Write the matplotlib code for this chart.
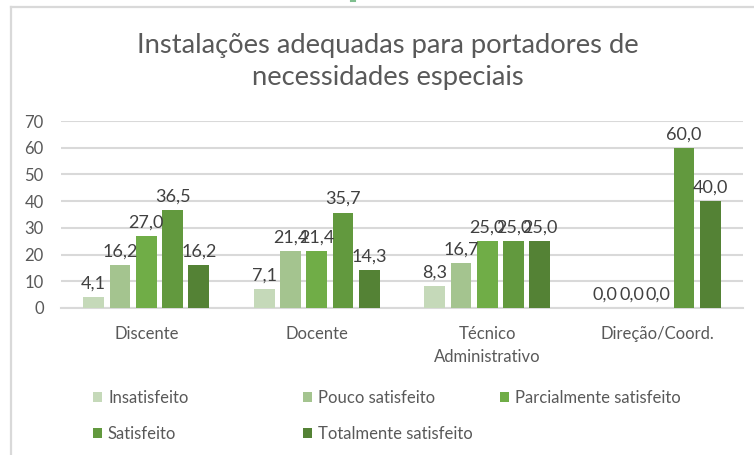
import matplotlib
matplotlib.use("Agg")
import matplotlib.pyplot as plt
from matplotlib.patches import Patch
from matplotlib.lines import Line2D
import numpy as np

plt.rcParams['font.family'] = ['Lato', 'DejaVu Sans']

title = "Instalações adequadas para portadores de\nnecessidades especiais"
categories = ["Discente", "Docente", "Técnico\nAdministrativo", "Direção/Coord."]
series_names = ["Insatisfeito", "Pouco satisfeito", "Parcialmente satisfeito",
                "Satisfeito", "Totalmente satisfeito"]
insatisfeito = [4.1, 7.1, 8.3, 0.0]
pouco = [16.2, 21.4, 16.7, 0.0]
parcial = [27.0, 21.4, 25.0, 0.0]
satisfeito = [36.5, 35.7, 25.0, 60.0]
totalmente = [16.2, 14.3, 25.0, 40.0]
series_values = [insatisfeito, pouco, parcial, satisfeito, totalmente]
colors = ["#C5D9B9", "#A4C48F", "#70AD47", "#62993E", "#548235"]
yticks = [0, 10, 20, 30, 40, 50, 60, 70]

W, H = 754, 455
fig = plt.figure(figsize=(W / 100, H / 100), dpi=100)
txt = "#595959"
grid = "#D9D9D9"

# chart-area border (top and left)
fig.add_artist(Line2D([11 / W, 11 / W], [0, 1 - 7 / H], transform=fig.transFigure,
                      color="#D9D9D9", lw=1.6))
fig.add_artist(Line2D([11 / W, 1], [1 - 7 / H, 1 - 7 / H], transform=fig.transFigure,
                      color="#D9D9D9", lw=1.6))
# small cut-off mark at the top edge
fig.add_artist(Line2D([351 / W, 355 / W], [1 - 1.2 / H, 1 - 1.2 / H], transform=fig.transFigure,
                      color="#7FBF8F", lw=1.5))

left, right = 61 / W, 743 / W
bottom, top = (H - 308) / H, (H - 121) / H
ax = fig.add_axes([left, bottom, right - left, top - bottom])

x = np.arange(len(categories))
pitch = 0.154
bw = 0.123
for i, (name, vals, c) in enumerate(zip(series_names, series_values, colors)):
    pos = x + (i - 2) * pitch
    ax.bar(pos, vals, width=bw, color=c, label=name, zorder=3)
    for p, v in zip(pos, vals):
        ax.annotate(f"{v:.1f}".replace(".", ","), (p, v), xytext=(0, 4),
                    textcoords="offset points", ha="center", va="bottom",
                    fontsize=13, color="#404040", zorder=4)

ax.set_xlim(-0.5, len(categories) - 0.5)
ax.set_ylim(0, 70)
ax.set_yticks(yticks)
ax.set_yticklabels([str(t) for t in yticks])
ax.yaxis.grid(True, color=grid, lw=1.5, zorder=0)
ax.set_axisbelow(True)
for s in ["top", "right", "left"]:
    ax.spines[s].set_visible(False)
ax.spines["bottom"].set_color(grid)
ax.spines["bottom"].set_linewidth(1.5)
ax.set_xticks(x)
ax.set_xticklabels(categories, linespacing=1.5)
ax.tick_params(axis="both", length=0, labelsize=12, colors=txt)
ax.tick_params(axis="y", pad=12.5)
ax.tick_params(axis="x", pad=13)

fig.text(0.514, 1 - 61.5 / H, title, ha="center", va="center", fontsize=19.7,
         color=txt, linespacing=1.38, fontweight="normal")

handles = [Patch(facecolor=c, edgecolor="none") for c in colors]
cols = [[0, 3], [1, 4], [2]]
col_x = [93, 303, 500]
for cx, idxs in zip(col_x, cols):
    fig.legend([handles[i] for i in idxs], [series_names[i] for i in idxs],
               loc="upper left", bbox_to_anchor=(cx / W, 1 - 390 / H),
               frameon=False, fontsize=12, handlelength=0.55, handleheight=0.55,
               handletextpad=0.35, borderpad=0, borderaxespad=0,
               labelspacing=1.22, labelcolor=txt)

fig.savefig("out.png", dpi=100)
